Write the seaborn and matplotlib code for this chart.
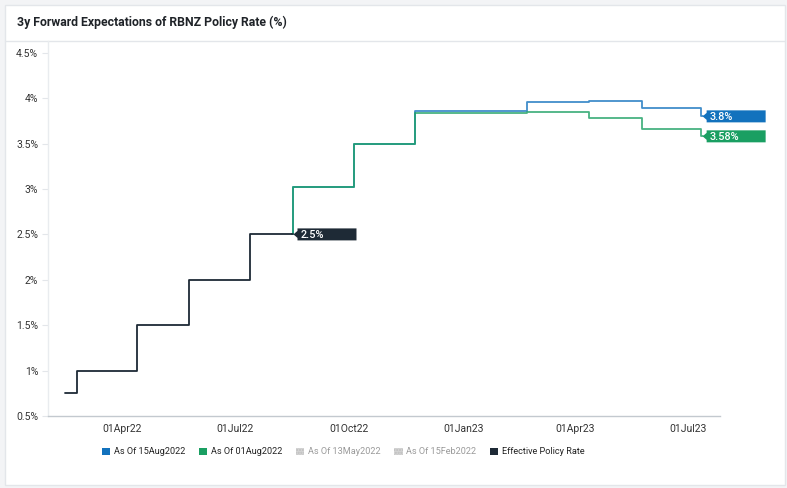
import pandas as pd
import numpy as np
import matplotlib
matplotlib.use("Agg")
import matplotlib.pyplot as plt
import matplotlib.dates as mdates
import matplotlib.transforms as mtransforms
from matplotlib.patches import Rectangle, Polygon, Patch
from matplotlib.lines import Line2D
import seaborn as sns

# ---------------- data ----------------
eff_dates = ["2022-02-14", "2022-02-23", "2022-04-13", "2022-05-25", "2022-07-13", "2022-08-17"]
eff_vals = [0.75, 1.00, 1.50, 2.00, 2.50, 2.50]

aug15_dates = ["2022-08-16", "2022-08-17", "2022-10-05", "2022-11-23", "2023-02-21",
               "2023-04-12", "2023-05-25", "2023-07-12", "2023-07-13"]
aug15_vals = [2.50, 3.02, 3.50, 3.86, 3.96, 3.97, 3.89, 3.80, 3.80]

aug01_dates = ["2022-08-16", "2022-08-17", "2022-10-05", "2022-11-23", "2023-02-21",
               "2023-04-12", "2023-05-25", "2023-07-12", "2023-07-13"]
aug01_vals = [2.50, 3.02, 3.50, 3.84, 3.85, 3.78, 3.66, 3.58, 3.58]

series_names = ["As Of 15Aug2022", "As Of 01Aug2022", "As Of 13May2022",
                "As Of 15Feb2022", "Effective Policy Rate"]
tick_dates = ["2022-04-01", "2022-07-01", "2022-10-01", "2023-01-01", "2023-04-01", "2023-07-01"]
tick_labels = ["01Apr22", "01Jul22", "01Oct22", "01Jan23", "01Apr23", "01Jul23"]
y_ticks = [0.5, 1.0, 1.5, 2.0, 2.5, 3.0, 3.5, 4.0, 4.5]
end_labels = {"As Of 15Aug2022": "3.8%", "As Of 01Aug2022": "3.58%", "Effective Policy Rate": "2.5%"}

colors = {"As Of 15Aug2022": "#1272bd", "As Of 01Aug2022": "#1a9f62",
          "As Of 13May2022": "#c8c8c8", "As Of 15Feb2022": "#c8c8c8",
          "Effective Policy Rate": "#1e2a36"}

df = pd.concat([
    pd.DataFrame({"date": pd.to_datetime(aug15_dates), "rate": aug15_vals, "series": "As Of 15Aug2022"}),
    pd.DataFrame({"date": pd.to_datetime(aug01_dates), "rate": aug01_vals, "series": "As Of 01Aug2022"}),
    pd.DataFrame({"date": pd.to_datetime(eff_dates), "rate": eff_vals, "series": "Effective Policy Rate"}),
], ignore_index=True)

# ---------------- figure ----------------
sns.set_theme(style="white")
plt.rcParams["font.family"] = ["Roboto", "DejaVu Sans"]

W, H = 787, 488
fig = plt.figure(figsize=(W / 100, H / 100), dpi=100)
fig.patch.set_facecolor("#f3f4f6")

# card
card = Rectangle((5 / W, 1 - 485 / H), 780 / W, 480 / H, transform=fig.transFigure,
                 facecolor="white", edgecolor="#e3e6ea", lw=1, zorder=-10)
fig.add_artist(card)
fig.add_artist(Line2D([5 / W, 785 / W], [1 - 40.5 / H] * 2, transform=fig.transFigure,
                      color="#e3e6ea", lw=1, zorder=-9))
fig.text(17 / W, 1 - 22 / H, "3y Forward Expectations of RBNZ Policy Rate (%)",
         fontsize=8.8, fontweight="bold", color="#1f2328", va="center", ha="left")

ax = fig.add_axes([48 / W, 1 - 416 / H, (720 - 48) / W, (416 - 41) / H])
ax.set_facecolor("none")

plot_order = ["As Of 15Aug2022", "As Of 01Aug2022", "Effective Policy Rate"]
sns.lineplot(data=df, x="date", y="rate", hue="series", hue_order=plot_order,
             palette={k: colors[k] for k in plot_order}, estimator=None,
             drawstyle="steps-post", linewidth=1.3, legend=False, ax=ax)
for ln, a in zip(ax.lines, [0.8, 0.8, 1.0]):
    ln.set_alpha(a)

ax.set_xlim(pd.Timestamp("2022-01-31"), pd.Timestamp("2023-07-27"))
ax.set_ylim(0.5, 4.63)
ax.set_xticks(pd.to_datetime(tick_dates))
ax.set_xticklabels(tick_labels)
ax.set_yticks(y_ticks)
ax.yaxis.set_major_formatter(matplotlib.ticker.FuncFormatter(lambda v, p: f"{v:g}%"))
ax.tick_params(axis="x", length=0, pad=6, labelsize=7.5, labelcolor="#333333")
ax.tick_params(axis="y", length=4, width=0.8, color="#e3e6ea", pad=3, labelsize=7.5,
               labelcolor="#333333", left=True)
ax.set_xlabel("")
ax.set_ylabel("")
for s in ["top", "right"]:
    ax.spines[s].set_visible(False)
ax.spines["left"].set_color("#e9ecef")
ax.spines["left"].set_linewidth(1)
ax.spines["bottom"].set_color("#c3c9cf")
ax.spines["bottom"].set_linewidth(1)
ax.grid(False)

# end-value tags
for name, txt in end_labels.items():
    sub = df[df.series == name]
    xe = mdates.date2num(sub["date"].iloc[-1])
    ye = sub["rate"].iloc[-1]
    trans = mtransforms.Affine2D() + mtransforms.ScaledTranslation(xe, ye, ax.transData)
    verts = [(0, 0), (4, 3.5), (4, 6), (63, 6), (63, -6), (4, -6), (4, -3.5)]
    poly = Polygon(verts, closed=True, transform=trans, facecolor=colors[name],
                   edgecolor="none", clip_on=False, zorder=5)
    ax.add_patch(poly)
    ax.annotate(txt, xy=(xe, ye), xytext=(5.2, -0.3), textcoords="offset points",
                color="white", fontsize=7.8, fontweight="medium", va="center", ha="left",
                zorder=6, annotation_clip=False)

# legend
handles = []
for n in series_names:
    if n in ("As Of 13May2022", "As Of 15Feb2022"):
        handles.append(Patch(facecolor="#d4d4d4", edgecolor="#bdbdbd", hatch="......", lw=0))
    else:
        handles.append(Patch(facecolor=colors[n], edgecolor="none"))
leg = ax.legend(handles, series_names, ncol=5, loc="center left",
                bbox_to_anchor=(102 / W, 1 - 452 / H), bbox_transform=fig.transFigure,
                frameon=False, fontsize=6.6, handlelength=0.9, handleheight=0.9,
                handletextpad=0.4, columnspacing=1.5, borderpad=0, borderaxespad=0)
for t, n in zip(leg.get_texts(), series_names):
    t.set_color("#9a9a9a" if n in ("As Of 13May2022", "As Of 15Feb2022") else "#222222")

fig.savefig("out.png", dpi=100, facecolor=fig.get_facecolor())
